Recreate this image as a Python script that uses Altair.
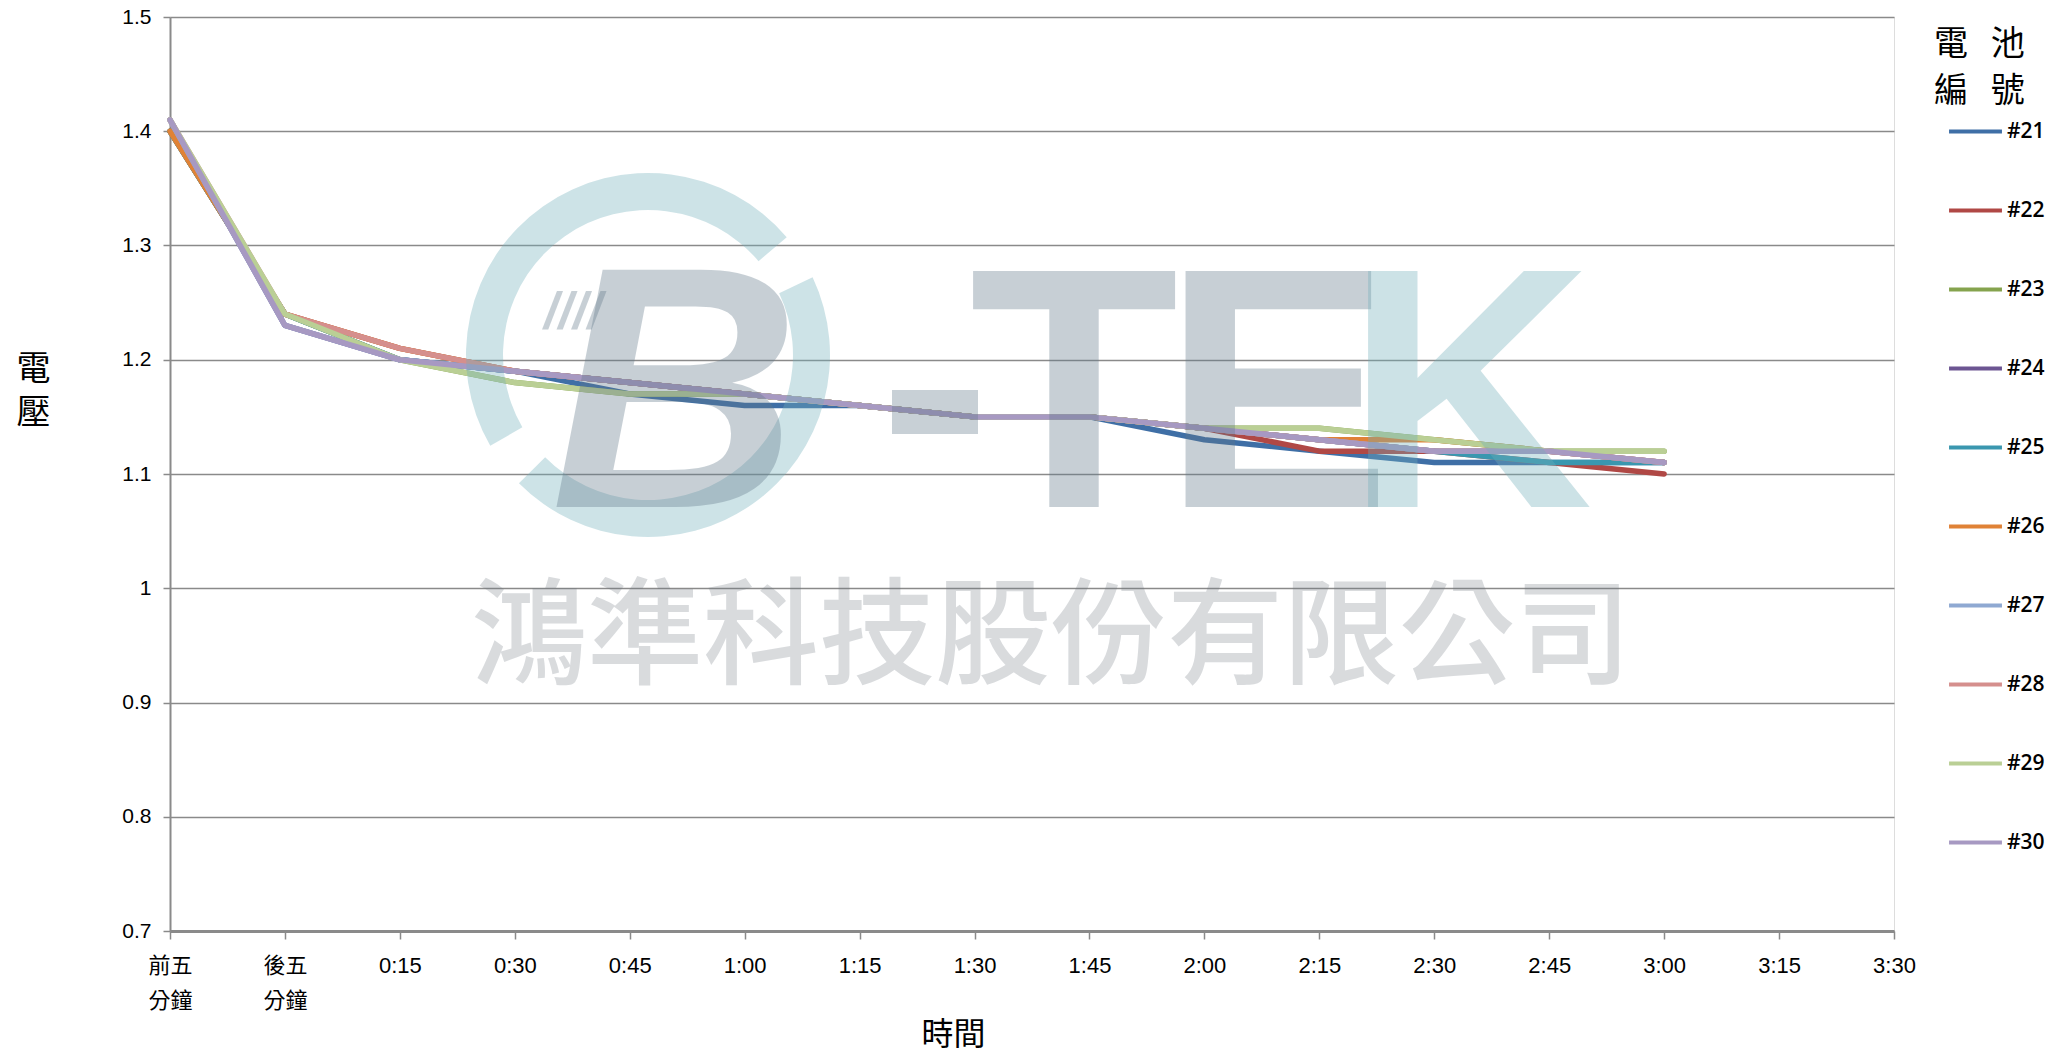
import altair as alt
import pandas as pd

times = ["前五\n分鐘", "後五\n分鐘", "0:15", "0:30", "0:45", "1:00", "1:15", "1:30",
         "1:45", "2:00", "2:15", "2:30", "2:45", "3:00", "3:15", "3:30"]

batteries = ["#21", "#22", "#23", "#24", "#25", "#26", "#27", "#28", "#29", "#30"]
colors = ["#3F6FA6", "#B04845", "#85A34E", "#6C5592", "#3A97AF", "#E08236",
          "#8FA9D2", "#D58F8D", "#BACF95", "#A799C2"]

b21 = [1.40, 1.24, 1.20, 1.19, 1.17, 1.16, 1.16, 1.15, 1.15, 1.13, 1.12, 1.11, 1.11, 1.11]
b22 = [1.40, 1.24, 1.21, 1.19, 1.18, 1.17, 1.16, 1.15, 1.15, 1.14, 1.12, 1.12, 1.11, 1.10]
b23 = [1.40, 1.24, 1.20, 1.18, 1.17, 1.17, 1.16, 1.15, 1.15, 1.14, 1.14, 1.13, 1.12, 1.12]
b24 = [1.41, 1.23, 1.20, 1.19, 1.18, 1.17, 1.16, 1.15, 1.15, 1.14, 1.13, 1.12, 1.12, 1.11]
b25 = [1.40, 1.24, 1.20, 1.19, 1.18, 1.17, 1.16, 1.15, 1.15, 1.14, 1.13, 1.12, 1.11, 1.11]
b26 = [1.40, 1.24, 1.21, 1.19, 1.18, 1.17, 1.16, 1.15, 1.15, 1.14, 1.13, 1.13, 1.12, 1.11]
b27 = [1.41, 1.23, 1.20, 1.19, 1.18, 1.17, 1.16, 1.15, 1.15, 1.14, 1.13, 1.12, 1.12, 1.11]
b28 = [1.41, 1.24, 1.21, 1.19, 1.18, 1.17, 1.16, 1.15, 1.15, 1.14, 1.13, 1.12, 1.12, 1.11]
b29 = [1.41, 1.24, 1.20, 1.18, 1.17, 1.17, 1.16, 1.15, 1.15, 1.14, 1.14, 1.13, 1.12, 1.12]
b30 = [1.41, 1.23, 1.20, 1.19, 1.18, 1.17, 1.16, 1.15, 1.15, 1.14, 1.13, 1.12, 1.12, 1.11]

series = [b21, b22, b23, b24, b25, b26, b27, b28, b29, b30]
y_ticks = [0.7, 0.8, 0.9, 1.0, 1.1, 1.2, 1.3, 1.4, 1.5]

rows = []
for name, vals in zip(batteries, series):
    for i, v in enumerate(vals):
        rows.append({"time": times[i], "v": v, "battery": name, "idx": i})
df = pd.DataFrame(rows)

LATIN = "Liberation Sans Narrow, Liberation Sans, Noto Sans CJK TC, sans-serif"
CJK = "Noto Sans CJK TC, sans-serif"
SP = "\u00a0\u00a0\u00a0"

lines = alt.Chart(df).mark_line(strokeWidth=5.5, strokeCap="round", strokeJoin="round").encode(
    x=alt.X("time:O", sort=times,
            scale=alt.Scale(type="point", domain=times, padding=0),
            axis=alt.Axis(title="時間", labelAngle=0, labelExpr="split(datum.label, '\\n')",
                          labelFont=LATIN, labelFontSize=22, labelColor="#000000",
                          labelLineHeight=35, labelPadding=16, labelBaseline="top",
                          tickSize=8, tickColor="#8A8A8A", tickWidth=1.5,
                          domainColor="#8A8A8A", domainWidth=3, grid=False,
                          titleFont=CJK, titleFontSize=32, titleFontWeight="normal",
                          titleColor="#000000", titleX=783, titleY=103,
                          titleAlign="center", titleBaseline="middle")),
    y=alt.Y("v:Q", scale=alt.Scale(domain=[0.7, 1.5], nice=False, zero=False),
            axis=alt.Axis(title=["電", "壓"], values=y_ticks, format=".1~f",
                          labelFont=LATIN, labelFontSize=21, labelColor="#000000",
                          labelPadding=12, tickSize=7, tickColor="#8A8A8A", tickWidth=1.5,
                          domainColor="#8A8A8A", domainWidth=2,
                          grid=True, gridColor="#8A8A8A", gridWidth=1.5,
                          titleAngle=0, titleFont=CJK, titleFontSize=34,
                          titleFontWeight="normal", titleColor="#000000",
                          titleX=-137, titleY=352, titleAlign="center",
                          titleBaseline="middle", titleLineHeight=44)),
    color=alt.Color("battery:N", sort=batteries,
                    scale=alt.Scale(domain=batteries, range=colors),
                    legend=alt.Legend(title=["電" + SP + "池", "編" + SP + "號"], orient="none",
                                      legendX=1764, legendY=11,
                                      titleFont=CJK, titleFontSize=34,
                                      titleFontWeight="normal", titleColor="#000000",
                                      titleLineHeight=47, titlePadding=-6,
                                      labelFont="Open Sans, sans-serif", labelFontSize=21,
                                      labelFontWeight=600, labelColor="#000000",
                                      labelOffset=3,
                                      symbolType="stroke", symbolSize=2800,
                                      symbolStrokeWidth=4, symbolOffset=13,
                                      rowPadding=40)),
    order="idx:Q",
)

one = pd.DataFrame({"k": [0]})
GRAY = "#62798A"
TEAL = "#70AFBA"
OP = 0.35

ring1 = alt.Chart(one).mark_arc(theta=4.19, theta2=7.15, radius=182, radius2=145,
                                color=TEAL, opacity=OP).encode(
    x=alt.value(478), y=alt.value(338))
ring2 = alt.Chart(one).mark_arc(theta=1.13, theta2=3.93, radius=182, radius2=145,
                                color=TEAL, opacity=OP).encode(
    x=alt.value(478), y=alt.value(338))
speed = alt.Chart(one).mark_text(text="////", font="Liberation Sans", fontSize=52,
                                 fontWeight="bold", fontStyle="italic", color=GRAY,
                                 opacity=OP, align="center", baseline="alphabetic").encode(
    x=alt.value(403), y=alt.value(312))
letter_b = alt.Chart(one).mark_text(text="B", font="Liberation Sans", fontSize=345,
                                    fontWeight="bold", fontStyle="italic", color=GRAY,
                                    opacity=OP, align="center", baseline="alphabetic").encode(
    x=alt.value(505), y=alt.value(490))
dash = alt.Chart(one).mark_rect(color=GRAY, opacity=OP).encode(
    x=alt.value(722), x2=alt.value(808), y=alt.value(373), y2=alt.value(417))
letter_t = alt.Chart(one).mark_text(text="T", font="Liberation Sans Narrow, Liberation Sans",
                                    fontSize=343, fontWeight="bold", color=GRAY, opacity=OP,
                                    align="center", baseline="alphabetic").encode(
    x=alt.value(904), y=alt.value(490))
letter_e = alt.Chart(one).mark_text(text="E", font="Liberation Sans Narrow, Liberation Sans",
                                    fontSize=343, fontWeight="bold", color=GRAY, opacity=OP,
                                    align="center", baseline="alphabetic").encode(
    x=alt.value(1107), y=alt.value(490))
letter_k = alt.Chart(one).mark_text(text="K", font="Liberation Sans Narrow, Liberation Sans",
                                    fontSize=343, fontWeight="bold", color=TEAL, opacity=OP,
                                    align="center", baseline="alphabetic").encode(
    x=alt.value(1299), y=alt.value(490))
company = alt.Chart(one).mark_text(text="鴻準科技股份有限公司", font=CJK, fontSize=116,
                                   fontWeight=500, color="#6E7780", opacity=0.26,
                                   align="center", baseline="middle").encode(
    x=alt.value(881), y=alt.value(623))

chart = alt.layer(lines, ring1, ring2, speed, letter_b, dash, letter_t, letter_e,
                  letter_k, company).properties(
    width=1724, height=914,
    autosize=alt.AutoSizeParams(type="none"),
    padding={"left": 162, "top": 9, "right": 160, "bottom": 122},
).configure_view(stroke="#8A8A8A", strokeWidth=1.5).configure(background="#FFFFFF")

chart.save("out.html", embed_options={"renderer": "svg", "actions": False})
